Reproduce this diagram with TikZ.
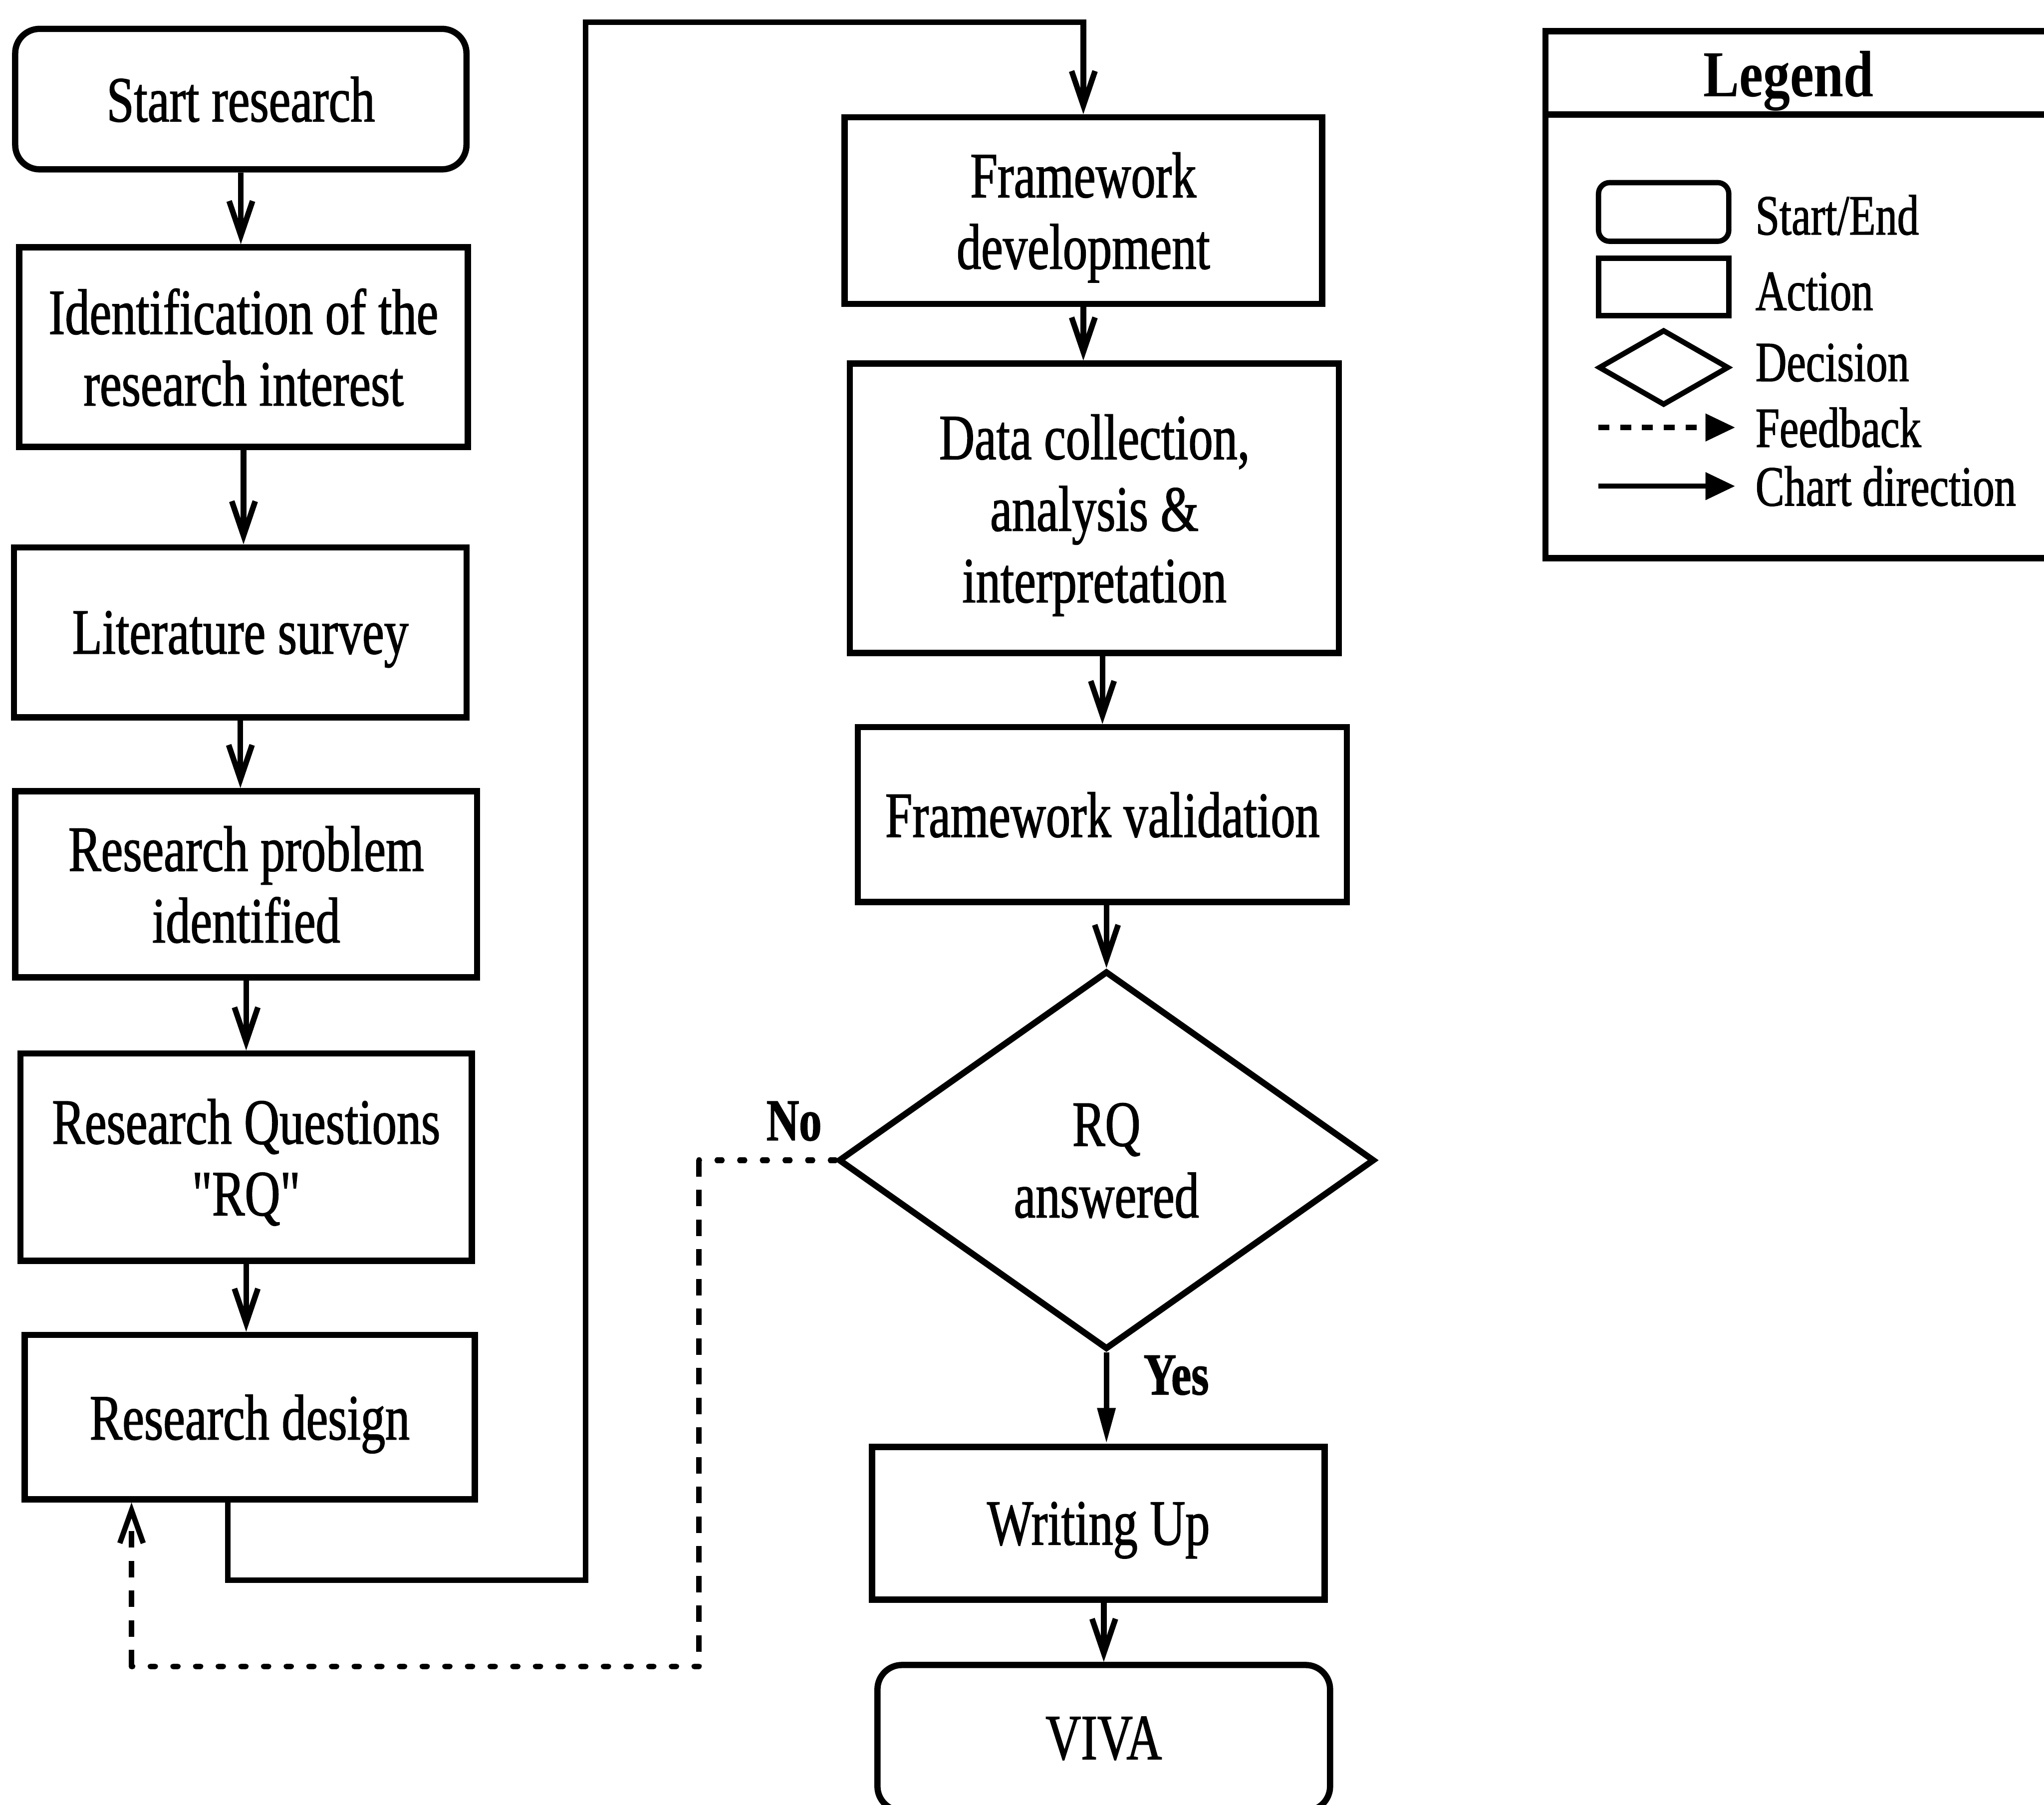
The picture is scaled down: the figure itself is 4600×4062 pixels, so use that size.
\documentclass[tikz,border=0pt]{standalone}
\usepackage{fontspec}
\setmainfont[FakeStretch=0.76, FakeBold=1.2]{Liberation Serif}
% same face without the TeX input mapping, so that " stays a straight quote
\newfontfamily\plainquotes[FakeStretch=0.76, FakeBold=1.2]{Liberation Serif}
\newfontfamily\titlefamily[FakeStretch=0.82]{Liberation Serif}
\usetikzlibrary{shapes.geometric,arrows.meta}

\newcommand\boxfont{\fontsize{41.3pt}{45.8pt}\selectfont}
\newcommand\keyfont{\fontsize{36.4pt}{40pt}\selectfont}
\newcommand\tagfont{\fontsize{38pt}{42pt}\selectfont\bfseries}

\tikzset{
  base/.style={draw, line width=4pt, align=center, inner sep=0pt, text depth=0pt, font=\boxfont},
  action/.style={base, rectangle},
  terminal/.style={base, rectangle, rounded corners=0.55cm},
  decision/.style={base, diamond, aspect=1.42},
  flow/.style={line width=3.6pt, -{Straight Barb[length=22pt,width=15pt]}},
  yesflow/.style={line width=3.6pt, -{Triangle[length=23pt,width=11pt]}},
  fbdots/.style={line width=3.6pt, line cap=round, dash pattern=on 3pt off 11.5pt},
  fbdash/.style={line width=3.4pt, dash pattern=on 10.5pt off 8.5pt},
  keytext/.style={anchor=west, inner sep=0pt, font=\keyfont},
  keyline/.style={line width=3.4pt, -{Triangle[length=19pt,width=17pt]}},
  frame/.style={line width=4pt},
}

\begin{document}
\begin{tikzpicture}[x=0.01cm, y=-0.01cm]
\useasboundingbox (0,0) rectangle (4600,4062);

% left column
\node[terminal, minimum width=10.15cm, minimum height=3.16cm] (start)  at (542,223)  {Start research};
\node[action,   minimum width=10.09cm, minimum height=4.49cm] (ident)  at (548,781)  {Identification of the\\research interest};
\node[action,   minimum width=10.18cm, minimum height=3.82cm] (lit)    at (541,1423) {Literature survey};
\node[action,   minimum width=10.39cm, minimum height=4.19cm] (prob)   at (554,1990) {Research problem\\identified};
\node[action,   minimum width=10.15cm, minimum height=4.66cm] (rq)     at (554,2604) {Research Questions\\{\plainquotes"RQ"}};
\node[action,   minimum width=10.12cm, minimum height=3.70cm] (design) at (562,3189) {Research design};

% middle column
\node[action,   minimum width=10.74cm, minimum height=4.20cm] (fd)   at (2438,474)  {Framework\\development};
\node[action,   minimum width=11.00cm, minimum height=6.51cm] (dc)   at (2463,1144) {Data collection,\\analysis \&\\interpretation};
\node[action,   minimum width=11.00cm, minimum height=3.93cm] (fv)   at (2481,1833) {Framework validation};
\node[decision, minimum width=12.06cm, minimum height=8.51cm] (dec)  at (2490,2611) {RQ\\answered};
\node[action,   minimum width=10.18cm, minimum height=3.43cm] (wu)   at (2472,3428) {Writing Up};
\node[terminal, minimum width=10.18cm, minimum height=3.28cm] (viva) at (2484,3911) {VIVA};

% chart direction, left column
\draw[flow] (start.south) -- (start.south |- ident.north);
\draw[flow] (ident.south) -- (ident.south |- lit.north);
\draw[flow] (lit.south)   -- (lit.south |- prob.north);
\draw[flow] (prob.south)  -- (prob.south |- rq.north);
\draw[flow] (rq.south)    -- (rq.south |- design.north);

% from research design over to the framework development
\coordinate (d1) at (1318,3556);
\coordinate (d2) at (1318,50);
\draw[flow] ([xshift=-0.49cm]design.south) |- (d1) -- (d2) -| (fd.north);

% chart direction, middle column
\draw[flow] (fd.south) -- (fd.south |- dc.north);
\draw[flow] (dc.south -| fv.north) -- (fv.north);
\draw[flow] (fv.south -| dec.north) -- (dec.north);
\draw[yesflow] (dec.south) -- (dec.south |- wu.north);
\draw[flow] (wu.south -| viva.north) -- (viva.north);

\node[inner sep=0pt, anchor=west, font=\tagfont] (yes) at (2573,3095) {Yes};
\node[inner sep=0pt, font=\tagfont] (no) at (1787,2523) {No};

% feedback loop back to the research design
\coordinate (f1) at (1573,2611);
\coordinate (f2) at (1573,3750);
\coordinate (f3) at (296,3750);
\draw[fbdots] (dec.west) -- (f1);
\draw[fbdash] (f1) -- (f2);
\draw[fbdots] (f2) -- (f3);
\draw[fbdash, -{Straight Barb[length=21pt,width=15pt]}] (f3) -- (f3 |- design.south);

% legend
\draw[frame] (3478,70) rectangle (4700,1256);
\draw[frame] (3478,258) -- (4700,258);
\node[inner sep=0pt, font=\titlefamily\fontsize{42pt}{46pt}\selectfont\bfseries] (legtitle) at (4025,182) {Legend};

\node[terminal, line width=3.4pt, minimum width=2.93cm, minimum height=1.32cm, rounded corners=0.25cm] (kstart) at (3744,477) {};
\node[action,   line width=3.4pt, minimum width=2.93cm, minimum height=1.29cm] (kact) at (3744,646) {};
\node[decision, line width=3.4pt, minimum width=2.93cm, minimum height=1.70cm, aspect=1.7] (kdec) at (3744,827) {};

\node[keytext] (tstart) at (3950,484)  {Start/End};
\node[keytext] (tact)   at (3950,656)  {Action};
\node[keytext] (tdec)   at (3950,816)  {Decision};
\node[keytext] (tfb)    at (3950,962)  {Feedback};
\node[keytext] (tdir)   at (3950,1094) {Chart direction};

\draw[keyline, dash pattern=on 7pt off 7pt] ([xshift=-3.53cm]tfb.west |- 0,962) -- ([xshift=-0.45cm]tfb.west |- 0,962);
\draw[keyline] ([xshift=-3.53cm]tdir.west |- 0,1094) -- ([xshift=-0.45cm]tdir.west |- 0,1094);
\end{tikzpicture}
\end{document}
